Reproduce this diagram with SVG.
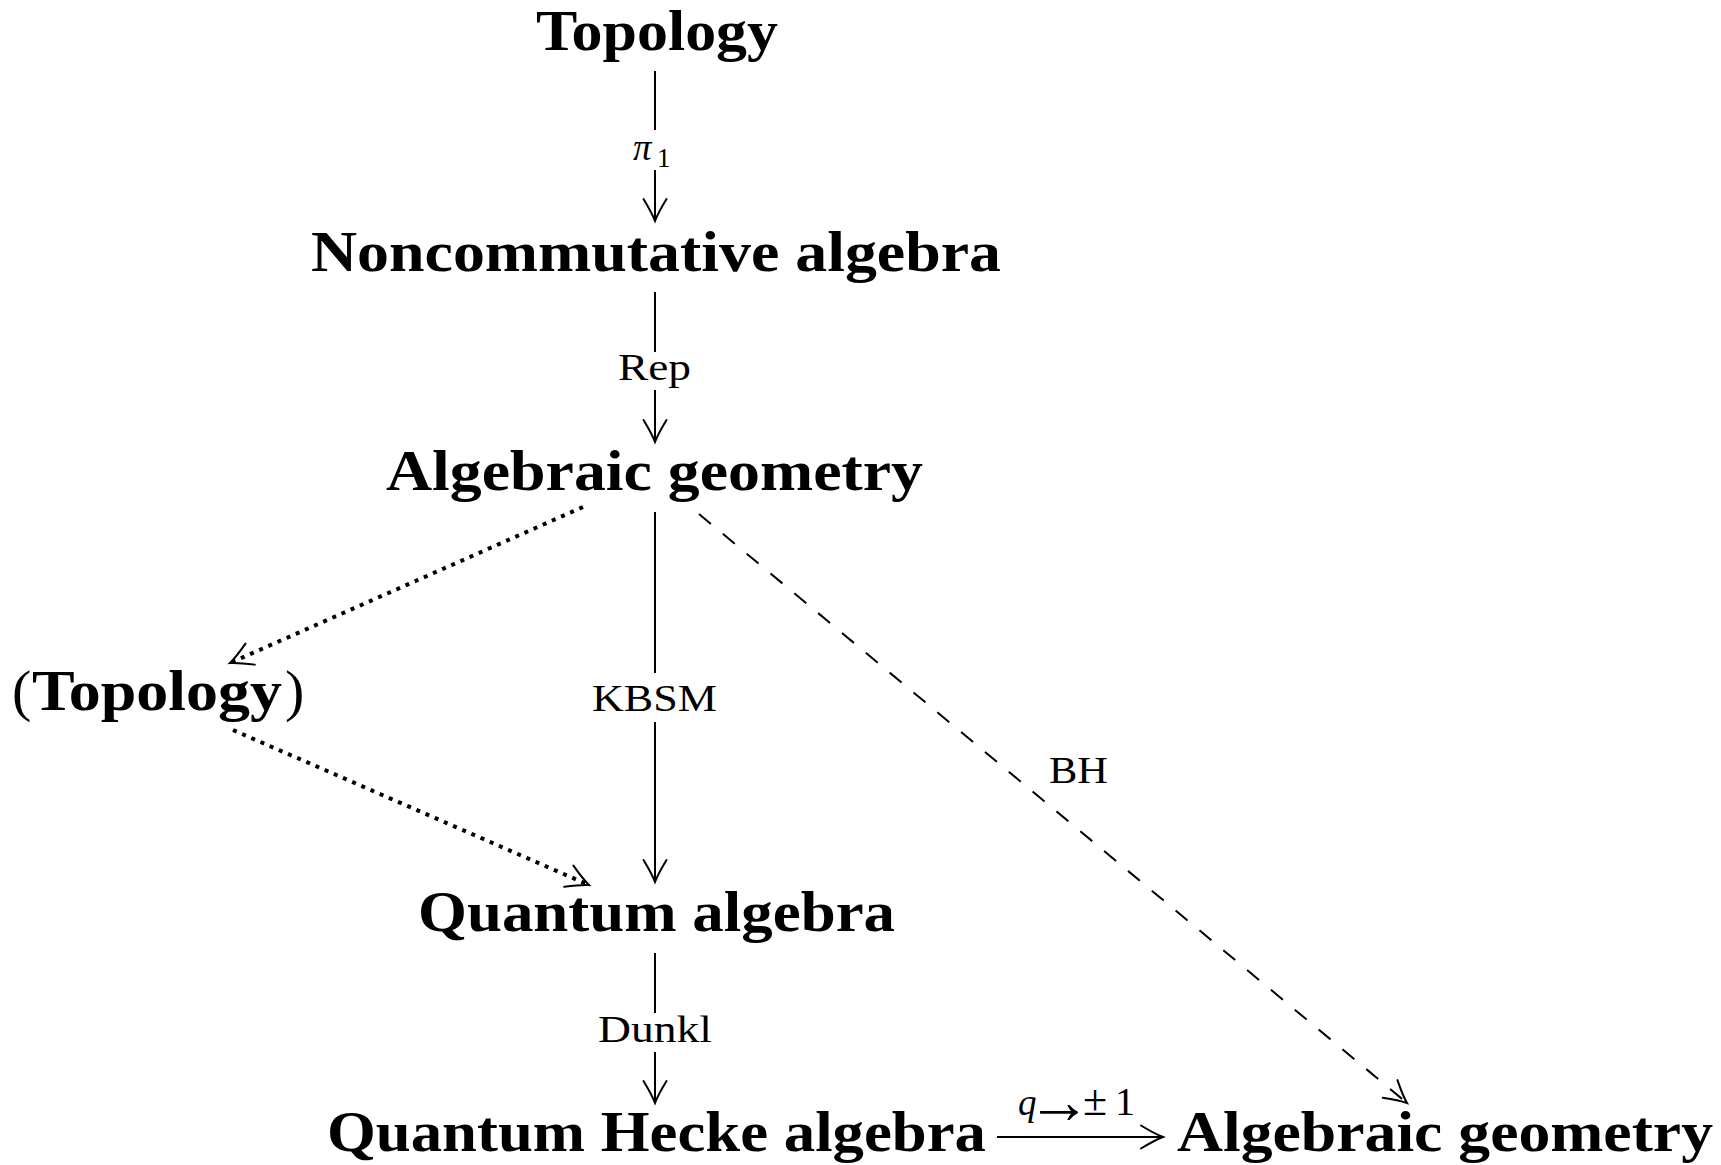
<svg xmlns="http://www.w3.org/2000/svg" width="1721" height="1165" viewBox="0 0 1721 1165">
<style>
  .node { font-family: "Liberation Serif", "Times New Roman", serif; font-weight: bold; font-size: 58px; fill: #000; }
  .paren { font-family: "Liberation Serif", "Times New Roman", serif; font-weight: normal; font-size: 58px; fill: #000; }
  .lbl { font-family: "Liberation Serif", "Times New Roman", serif; font-size: 37px; fill: #000; }
  .it { font-style: italic; }
  .arr { fill: none; stroke: #000; stroke-width: 2; marker-end: url(#to); }
  .dashed { stroke-dasharray: 15.5 15.5; }
  .dotted { stroke-width: 4; stroke-dasharray: 4 6; }
</style>
<defs>
  <marker id="to" markerUnits="userSpaceOnUse" orient="auto" markerWidth="30" markerHeight="30" refX="0" refY="0" viewBox="-26 -15 30 30" overflow="visible">
    <path d="M-22,-11.5 Q-8,-3 0,0 Q-8,3 -22,11.5" fill="none" stroke="#000" stroke-width="2" stroke-linecap="round"/>
  </marker>
</defs>
<rect width="1721" height="1165" fill="#fff"/>

<g id="connectors">
  <path class="arr" d="M655,71 V130 M655,170 V221"/>
  <path class="arr" d="M655,292 V352 M655,390 V442"/>
  <path class="arr" d="M655,512 V673 M655,722 V882"/>
  <path class="arr" d="M655,953 V1013 M655,1052 V1103"/>
  <path class="arr" d="M997,1137 H1163"/>
  <path class="arr dashed" d="M699,514 L1407,1103"/>
  <path class="arr dotted" d="M583,507 L230,663"/>
  <path class="arr dotted" d="M233,730 L589,885"/>
  <g id="labels">
    <text class="lbl" y="160"><tspan class="it" x="633">π</tspan><tspan x="657" dy="7" font-size="27">1</tspan></text>
    <text class="lbl" x="618" y="380" textLength="73" lengthAdjust="spacingAndGlyphs">Rep</text>
    <text class="lbl" x="592" y="711" textLength="125" lengthAdjust="spacingAndGlyphs">KBSM</text>
    <text class="lbl" x="598" y="1042" textLength="114" lengthAdjust="spacingAndGlyphs">Dunkl</text>
    <text class="lbl" x="1049" y="783" textLength="59" lengthAdjust="spacingAndGlyphs">BH</text>
    <text class="lbl" y="1115"><tspan class="it" x="1018">q</tspan><tspan x="1027" dy="8" font-size="64">→</tspan><tspan x="1083" dy="-8" font-size="44">±</tspan><tspan x="1115" font-size="40">1</tspan></text>
  </g>
</g>

<g id="n-topology">
  <text class="node" x="536" y="50" textLength="242" lengthAdjust="spacingAndGlyphs">Topology</text>
</g>
<g id="n-noncomm">
  <text class="node" x="311" y="271" textLength="690" lengthAdjust="spacingAndGlyphs">Noncommutative algebra</text>
</g>
<g id="n-alggeo1">
  <text class="node" x="386" y="490" textLength="537" lengthAdjust="spacingAndGlyphs">Algebraic geometry</text>
</g>
<g id="n-topology2">
  <text class="paren" x="12" y="710">(</text>
  <text class="node" x="32" y="710" textLength="250" lengthAdjust="spacingAndGlyphs">Topology</text>
  <text class="paren" x="285" y="710">)</text>
</g>
<g id="n-quantum">
  <text class="node" x="418" y="931" textLength="477" lengthAdjust="spacingAndGlyphs">Quantum algebra</text>
</g>
<g id="n-hecke">
  <text class="node" x="327" y="1151" textLength="659" lengthAdjust="spacingAndGlyphs">Quantum Hecke algebra</text>
</g>
<g id="n-alggeo2">
  <text class="node" x="1177" y="1151" textLength="536" lengthAdjust="spacingAndGlyphs">Algebraic geometry</text>
</g>
</svg>
